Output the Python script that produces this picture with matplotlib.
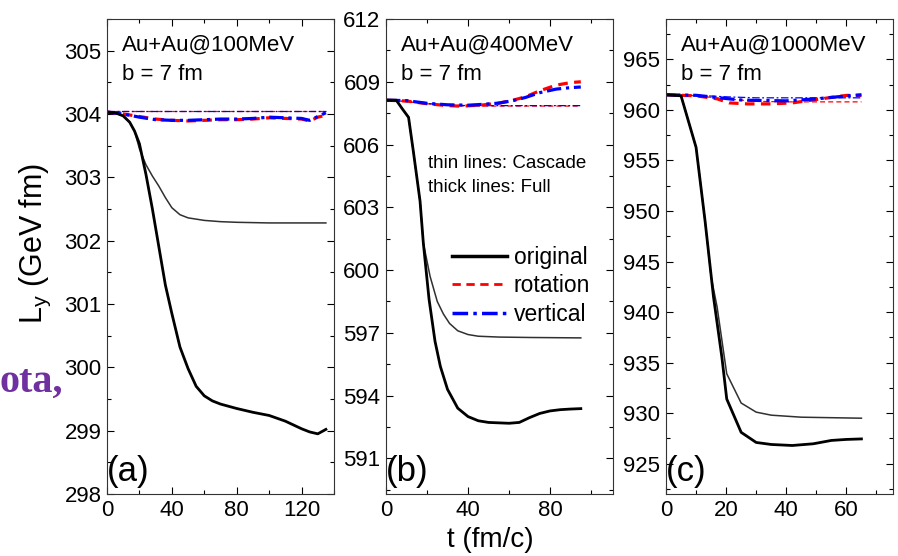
import numpy as np
import matplotlib
matplotlib.use("Agg")
import matplotlib.pyplot as plt
from matplotlib.ticker import MultipleLocator
from matplotlib.lines import Line2D

plt.rcParams['font.family'] = ['Liberation Sans', 'DejaVu Sans']
plt.rcParams['mathtext.fontset'] = 'custom'
plt.rcParams['mathtext.rm'] = 'Liberation Sans'
plt.rcParams['mathtext.it'] = 'Liberation Sans'

# ---- panel (a): Au+Au@100MeV ----
ta_full = [0, 5, 10, 14, 17, 20, 24, 28, 32, 36, 40, 45, 50, 55, 60, 65, 70, 80, 90, 100, 110, 120, 125, 130, 135]
La_full_orig = [304.03, 304.02, 303.97, 303.87, 303.73, 303.53, 303.05, 302.5, 301.9, 301.3, 300.85, 300.32,
                299.98, 299.7, 299.55, 299.47, 299.42, 299.35, 299.29, 299.24, 299.15, 299.03, 298.98, 298.95, 299.02]
ta_casc = [0, 5, 10, 14, 17, 20, 24, 28, 32, 36, 40, 45, 50, 60, 70, 80, 100, 120, 135]
La_casc_orig = [304.03, 304.02, 303.97, 303.87, 303.73, 303.45, 303.2, 303.02, 302.86, 302.68, 302.52, 302.41,
                302.36, 302.32, 302.3, 302.29, 302.28, 302.28, 302.28]
ta_rot = [0, 10, 20, 30, 40, 50, 60, 70, 80, 90, 100, 110, 120, 125, 130, 135]
La_full_rot = [304.03, 304.0, 303.96, 303.92, 303.9, 303.89, 303.9, 303.91, 303.91, 303.92, 303.94, 303.93,
               303.92, 303.89, 303.95, 303.98]
La_full_vert = [304.03, 304.0, 303.95, 303.91, 303.9, 303.9, 303.91, 303.92, 303.92, 303.93, 303.95, 303.94,
                303.93, 303.9, 303.96, 304.02]
ta_flat = [0, 135]
La_casc_rot = [304.04, 304.04]
La_casc_vert = [304.04, 304.04]

# ---- panel (b): Au+Au@400MeV ----
tb_full = [0, 5, 8, 11, 13.3, 16.6, 18.2, 21, 23.9, 26.5, 30, 35, 40, 45, 50, 55, 60, 65, 70, 75, 80, 85, 90, 95]
Lb_full_orig = [608.12, 608.12, 607.7, 607.3, 605.7, 603.3, 601.3, 598.6, 596.6, 595.4, 594.3, 593.4, 593.0,
                592.8, 592.72, 592.7, 592.68, 592.72, 592.95, 593.15, 593.27, 593.33, 593.36, 593.38]
tb_casc = [0, 5, 8, 11, 13.3, 16.6, 18.2, 21.5, 25, 28, 31, 35, 40, 45, 55, 70, 95]
Lb_casc_orig = [608.12, 608.12, 607.7, 607.3, 605.7, 603.3, 601.3, 599.7, 598.5, 597.9, 597.45, 597.1, 596.92,
                596.84, 596.8, 596.78, 596.76]
tb_rot = [0, 10, 20, 30, 35, 40, 47, 55, 62, 68, 75, 83, 90, 95]
Lb_full_rot = [608.12, 608.08, 607.95, 607.86, 607.84, 607.85, 607.89, 607.98, 608.12, 608.28, 608.57, 608.84,
               608.96, 609.0]
Lb_full_vert = [608.12, 608.1, 607.97, 607.9, 607.89, 607.88, 607.92, 607.98, 608.1, 608.25, 608.48, 608.65,
                608.72, 608.75]
tb_thin = [0, 10, 20, 30, 40, 60, 95]
Lb_casc_rot = [608.12, 608.05, 607.95, 607.87, 607.84, 607.84, 607.84]
Lb_casc_vert = [608.12, 608.06, 607.96, 607.89, 607.86, 607.86, 607.86]

# ---- panel (c): Au+Au@1000MeV ----
tc_full = [0, 5, 10, 13, 15.8, 18.6, 20.2, 25, 30, 35, 42, 49, 55, 60, 65]
Lc_full_orig = [961.5, 961.4, 956.3, 949.0, 941.5, 935.5, 931.4, 928.1, 927.1, 926.9, 926.8, 926.97, 927.3,
                927.4, 927.45]
tc_casc = [0, 5, 10, 13, 15, 17, 20.2, 25, 30, 35, 45, 55, 65]
Lc_casc_orig = [961.5, 961.4, 956.3, 949.0, 943.5, 940.5, 933.9, 931.0, 930.1, 929.8, 929.6, 929.55, 929.5]
tc_rot = [0, 10, 17, 21, 27, 35, 42, 48, 54, 60, 65]
Lc_full_rot = [961.5, 961.4, 961.1, 960.7, 960.6, 960.6, 960.7, 960.95, 961.2, 961.44, 961.45]
tc_vert = [0, 10, 18, 24, 29, 40, 50, 57, 63, 65]
Lc_full_vert = [961.5, 961.45, 961.2, 961.0, 960.95, 960.9, 961.1, 961.3, 961.45, 961.5]
tc_thin = [0, 10, 20, 30, 40, 65]
Lc_casc_rot = [961.5, 961.4, 961.1, 960.85, 960.8, 960.8]
Lc_casc_vert = [961.5, 961.45, 961.3, 961.2, 961.2, 961.2]

panels = [
    dict(title="Au+Au@100MeV", tag="(a)", xlim=(0, 140), ylim=(298, 305.5), xmaj=40, xmin=20, ymaj=1, ymin=0.5,
         casc=(ta_casc, La_casc_orig), full=(ta_full, La_full_orig),
         rot=(ta_rot, La_full_rot), vert=(ta_rot, La_full_vert),
         crot=(ta_flat, La_casc_rot), cvert=(ta_flat, La_casc_vert)),
    dict(title="Au+Au@400MeV", tag="(b)", xlim=(0, 110.7), ylim=(589.3, 612), xmaj=40, xmin=20, ymaj=3, ymin=1.5,
         casc=(tb_casc, Lb_casc_orig), full=(tb_full, Lb_full_orig),
         rot=(tb_rot, Lb_full_rot), vert=(tb_rot, Lb_full_vert),
         crot=(tb_thin, Lb_casc_rot), cvert=(tb_thin, Lb_casc_vert)),
    dict(title="Au+Au@1000MeV", tag="(c)", xlim=(0, 75.5), ylim=(922, 969), xmaj=20, xmin=10, ymaj=5, ymin=2.5,
         casc=(tc_casc, Lc_casc_orig), full=(tc_full, Lc_full_orig),
         rot=(tc_rot, Lc_full_rot), vert=(tc_vert, Lc_full_vert),
         crot=(tc_thin, Lc_casc_rot), cvert=(tc_thin, Lc_casc_vert)),
]

fig = plt.figure(figsize=(8.98, 5.56), dpi=100)
lefts = [107, 386, 666]
W, H = 898.0, 556.0
axes = []
for left, p in zip(lefts, panels):
    ax = fig.add_axes([left / W, 62 / H, 227 / W, 475 / H])
    axes.append(ax)

    # thin lines: cascade
    ax.plot(*p["crot"], color="red", lw=0.9, ls=(0, (4, 2.5)))
    ax.plot(*p["cvert"], color="blue", lw=0.9, ls=(0, (6, 2, 1.5, 2)))
    ax.plot(*p["casc"], color="#303030", lw=1.1)
    # thick lines: full
    ax.plot(*p["rot"], color="red", lw=2.3, ls=(0, (3, 2)))
    ax.plot(*p["vert"], color="blue", lw=2.3, ls=(0, (4.5, 1.5, 1, 1.5)))
    ax.plot(*p["full"], color="black", lw=2.0)

    ax.set_xlim(*p["xlim"])
    ax.set_ylim(*p["ylim"])
    ax.xaxis.set_major_locator(MultipleLocator(p["xmaj"]))
    ax.xaxis.set_minor_locator(MultipleLocator(p["xmin"]))
    ax.yaxis.set_major_locator(MultipleLocator(p["ymaj"]))
    ax.yaxis.set_minor_locator(MultipleLocator(p["ymin"]))
    ax.tick_params(which="both", direction="in", top=True, right=True, labelsize=16, pad=4)
    ax.tick_params(which="major", length=5, width=0.8)
    ax.tick_params(which="minor", length=3, width=0.8)
    for s in ax.spines.values():
        s.set_linewidth(0.8)
        s.set_color("#333333")

    ax.text(0.065, 0.967, p["title"], transform=ax.transAxes, fontsize=16, va="top", ha="left")
    ax.text(0.065, 0.905, "b = 7 fm", transform=ax.transAxes, fontsize=16, va="top", ha="left")
    ax.text(0.0, 0.012, p["tag"], transform=ax.transAxes, fontsize=25, va="bottom", ha="left")

axb = axes[1]
axb.text(0.185, 0.695, "thin lines: Cascade", transform=axb.transAxes, fontsize=13.5, va="center")
axb.text(0.185, 0.645, "thick lines: Full", transform=axb.transAxes, fontsize=13.5, va="center")

handles = [
    Line2D([], [], color="black", lw=2.5),
    Line2D([], [], color="red", lw=2.0, ls=(0, (3, 2))),
    Line2D([], [], color="blue", lw=2.5, ls=(0, (4.5, 1.5, 1, 1.5))),
]
axb.legend(handles, ["original", "rotation", "vertical"], loc="center", bbox_to_anchor=(0.595, 0.438),
           frameon=False, fontsize=16.5, handlelength=2.4, handletextpad=0.3, labelspacing=0.25)

fig.text(35 / W, 1 - 243 / H, r"L$_{\rm y}$ (GeV fm)", rotation=90, fontsize=22, ha="center", va="center")
fig.text(490 / W, 1 - 540 / H, "t (fm/c)", fontsize=20, ha="center", va="center")
fig.text(63 / W, 1 - 392 / H, "ota,", fontsize=29, fontweight="bold", color="#7030A0",
         family="Liberation Serif", ha="right", va="baseline")

fig.savefig("out.png", dpi=100)
